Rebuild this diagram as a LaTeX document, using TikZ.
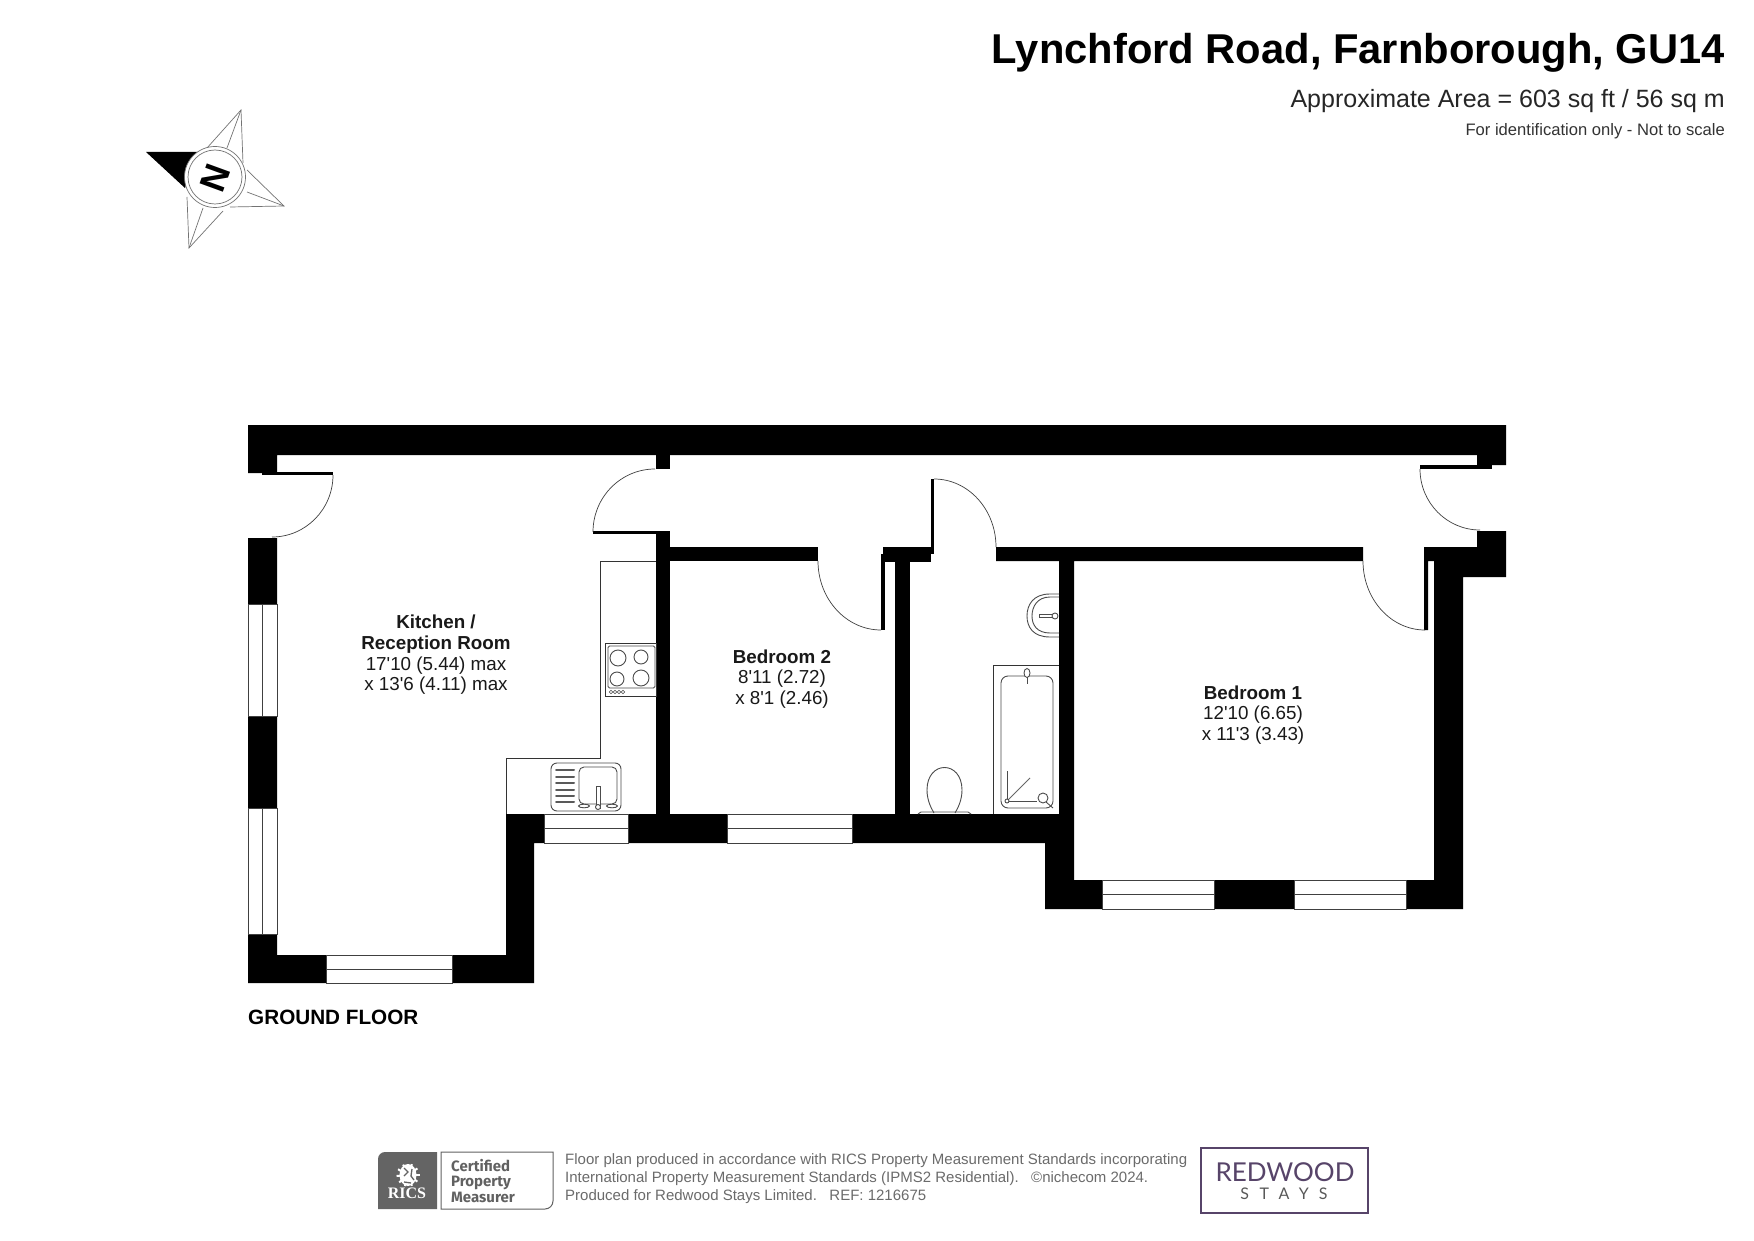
\documentclass[tikz,border=0pt]{standalone}
\usepackage{fontspec}
\newfontfamily\plansans{Liberation Sans}
\newfontfamily\planserif{Liberation Serif}
\newfontfamily\badgesans{Fira Sans}
\newfontfamily\logosans{Lato}
\newfontfamily\logostays[LetterSpace=66]{Lato}
\definecolor{ricsgrey}{HTML}{646464}
\definecolor{logopurple}{HTML}{574469}
\tikzset{
  wall/.style={fill=black},
  pane/.style={draw=black!75,fill=white,line width=0.8pt},
  thinline/.style={draw=black!80,line width=0.8pt},
  fixture/.style={draw=black!70,line width=0.9pt},
  swing/.style={draw=black!75,line width=0.7pt},
  starline/.style={draw=black!55,line width=0.7pt},
  titletext/.style={anchor=base east,inner sep=0pt,font=\plansans},
  roomlabel/.style={align=center,inner sep=0pt,text=black!90,
    font=\plansans\fontsize{18.8}{20.7}\selectfont},
  smallprint/.style={anchor=base west,inner sep=0pt,text=black!58,
    font=\plansans\fontsize{15}{15}\selectfont},
  badgetext/.style={anchor=base west,inner sep=0pt,text=black!62,
    font=\badgesans\bfseries\fontsize{15}{15}\selectfont},
}
\begin{document}
\begin{tikzpicture}[x=1pt,y=-1pt]
  \useasboundingbox[fill=white] (0,0) rectangle (1754,1241);
  % outer walls
  \fill[wall] (248,425)--(1506,425)--(1506,465)--(1477,465)--(1477,455)--(277,455)--(277,473)--(248,473)--cycle;
  \fill[wall] (248,538)--(277,538)--(277,955)--(506,955)--(506,814)--(1059,814)--(1059,561)--(996,561)--(996,547)
    --(1363,547)--(1363,561)--(1074,561)--(1074,880)--(1434,880)--(1434,561)--(1428,561)--(1428,630)--(1424,630)
    --(1424,547)--(1477,547)--(1477,531)--(1506,531)--(1506,577)--(1463,577)--(1463,909)--(1045,909)--(1045,843)
    --(534,843)--(534,983)--(248,983)--cycle;
  % partitions and door leaves
  \fill[wall] (656,455) rectangle (670,469);
  \fill[wall] (656,531) rectangle (670,814);
  \fill[wall] (593,531) rectangle (670,534);
  \fill[wall] (670,547) rectangle (818,561);
  \fill[wall] (881,554) rectangle (885,630);
  \fill[wall] (883,547) rectangle (931,562);
  \fill[wall] (895,561) rectangle (910,814);
  \fill[wall] (931,479) rectangle (934,554);
  \fill[wall] (262,472) rectangle (333,475);
  \fill[wall] (1420,465) rectangle (1492,469);
  % windows
  \foreach \xa/\ya/\xb/\yb in {248/604/277/716,248/808/277/934} {
    \draw[pane] (\xa,\ya) rectangle (\xb,\yb);
    \draw[pane] (262.5,\ya)--(262.5,\yb);
  }
  \foreach \xa/\ya/\xb/\yb in {326/955/452/983,544/814/628/843,727/814/852/843,1102/880/1214/909,1294/880/1406/909} {
    \draw[pane] (\xa,\ya) rectangle (\xb,\yb);
    \draw[pane] (\xa,{(\ya+\yb)/2})--(\xb,{(\ya+\yb)/2});
  }
  % door swings
  \draw[swing] (333,475) arc[start angle=0,end angle=90,x radius=61,y radius=62];
  \draw[swing] (655,469) arc[start angle=-90,end angle=-180,x radius=62,y radius=63];
  \draw[swing] (818,561) arc[start angle=180,end angle=90,x radius=63,y radius=69];
  \draw[swing] (934,479) arc[start angle=-90,end angle=0,x radius=62,y radius=68];
  \draw[swing] (1363,561) arc[start angle=180,end angle=90,x radius=62,y radius=69];
  \draw[swing] (1420,469) arc[start angle=180,end angle=90,x radius=60,y radius=61];
  % kitchen units
  \draw[thinline] (656,561)--(600,561)--(600,758)--(506,758)--(506,814);
  \draw[thinline,fill=white] (605,643) rectangle (656,696);
  \draw[fixture,rounded corners=1.5pt] (608,646) rectangle (655,688);
  \draw[fixture] (618,658) circle (8);
  \draw[fixture] (641,657) circle (7);
  \draw[fixture] (617,679) circle (7);
  \draw[fixture] (641,678) circle (8);
  \foreach \x in {611,615,619,623} \draw[fixture,line width=0.6pt] (\x,692) circle (1.7);
  % sink
  \draw[fixture,rounded corners=6pt] (551,763) rectangle (621,811);
  \foreach \y in {770,777,783,790,796,802} \draw[black!65,line width=2pt,line cap=round] (556,\y)--(574,\y);
  \draw[fixture,rounded corners=5pt] (579,767) rectangle (617,804);
  \draw[fixture,fill=white] (596,786) rectangle (600,808);
  \draw[fixture,fill=white] (584,806) ellipse (5.5 and 1.8);
  \draw[fixture,fill=white] (612,806) ellipse (5.5 and 1.8);
  \draw[fixture,fill=white] (598,807) circle (2.5);
  % bathroom
  \draw[thinline] (1059,665)--(993,665)--(993,814);
  \draw[fixture,rounded corners=7pt] (1001,676) rectangle (1053,808);
  \draw[fixture,fill=white] (1027,673) ellipse (3 and 4.5);
  \draw[fixture] (1027,677)--(1027,684);
  \draw[fixture] (1007,771)--(1007,801)--(1037,801);
  \draw[black!60,line width=0.8pt] (1007,801)--(1030,778);
  \draw[fixture,fill=white] (1007,801) circle (2);
  \draw[fixture] (1043,798) circle (5);
  \draw[fixture] (1046,802)--(1053,808);
  \draw[fixture] (927,790) .. controls (927,760) and (962,760) .. (962,790) .. controls (962,800) and (958,808) .. (955,813);
  \draw[fixture] (927,790) .. controls (927,800) and (931,808) .. (934,813);
  \draw[fixture] (918,814)--(921,812)--(968,812)--(971,814);
  \draw[fixture] (1059,594)--(1050,594) .. controls (1033,594) and (1027,605) .. (1027,616) .. controls (1027,627) and (1033,637) .. (1050,637)--(1059,637);
  \draw[fixture] (1059,597)--(1050,597) .. controls (1037,597) and (1032,607) .. (1032,616) .. controls (1032,625) and (1037,633) .. (1050,633)--(1059,633);
  \draw[fixture,fill=white] (1039,614.5) rectangle (1054,617.5);
  \draw[fixture,fill=white] (1055,616) circle (3);
  % room labels
  \node[roomlabel] (kitchen) at (436,655) {\bfseries Kitchen /\\\bfseries Reception Room\\17'10 (5.44) max\\x 13'6 (4.11) max};
  \node[roomlabel] (bedtwo) at (782,679) {\bfseries Bedroom 2\\8'11 (2.72)\\x 8'1 (2.46)};
  \node[roomlabel] (bedone) at (1253,715) {\bfseries Bedroom 1\\12'10 (6.65)\\x 11'3 (3.43)};
  \node[anchor=base west,inner sep=0pt,font=\plansans\bfseries\fontsize{20.7}{20.7}\selectfont] (floorname) at (248,1024) {GROUND FLOOR};
  % heading
  \node[titletext,font=\plansans\bfseries\fontsize{41.7}{41.7}\selectfont] (title) at (1725,64) {Lynchford Road, Farnborough, GU14};
  \node[titletext,text=black!85,font=\plansans\fontsize{25}{25}\selectfont] (area) at (1725,108) {Approximate Area = 603 sq ft / 56 sq m};
  \node[titletext,text=black!80,font=\plansans\fontsize{16.6}{16.6}\selectfont] (note) at (1725,136) {For identification only - Not to scale};
  % north point
  \draw[starline] (207,148)--(241,110)--(243,163);
  \draw[starline] (241,110)--(227,148);
  \draw[starline] (247,170)--(284,206)--(230,207);
  \draw[starline] (284,206)--(247,192);
  \draw[starline] (187,197)--(189,248)--(223,211);
  \draw[starline] (189,248)--(203,208);
  \fill[black] (146,152)--(198,152)--(185,188)--cycle;
  \draw[starline,fill=white] (215,177) circle (30.5);
  \draw[starline] (215,177) circle (27);
  \node[rotate=70,inner sep=0pt,font=\plansans\bfseries\fontsize{36}{36}\selectfont] (north) at (215,178) {N};
  % badge
  \fill[ricsgrey] (437,1209)--(378,1209)[rounded corners=7pt]--(378,1152)[sharp corners]--(437,1152)--cycle;
  \fill[white] (408,1175) ellipse (8.5 and 11);
  \foreach \a in {-70,-35,...,250} \draw[white,line width=2pt] (408,1175)--++({\a}:11.5);
  \draw[ricsgrey,line width=1.3pt] (404,1168)--(408,1172)--(404,1176) (412,1169)--(411,1176)--(414,1180) (404,1182)--(411,1183);
  \node[anchor=base,inner sep=0pt,text=white,font=\planserif\bfseries\fontsize{16}{16}\selectfont] (ricsname) at (407,1198) {RICS};
  \draw[black!62,line width=1pt] (441,1152)--(553,1152)--(553,1200)[rounded corners=8pt]--(553,1209)[sharp corners]--(441,1209)--cycle;
  \node[badgetext] (badgea) at (451,1171) {Certified};
  \node[badgetext] (badgeb) at (451,1186.5) {Property};
  \node[badgetext] (badgec) at (451,1202) {Measurer};
  % small print
  \node[smallprint] (printa) at (565,1164) {Floor plan produced in accordance with RICS Property Measurement Standards incorporating};
  \node[smallprint] (printb) at (565,1182) {International Property Measurement Standards (IPMS2 Residential).\ \ \ \copyright nichecom 2024.};
  \node[smallprint] (printc) at (565,1200) {Produced for Redwood Stays Limited.\ \ \ REF:\ 1216675};
  % logo
  \draw[logopurple,line width=1.6pt] (1201,1148) rectangle (1368,1213);
  \node[anchor=base,inner sep=0pt,text=logopurple,font=\logosans\fontsize{26}{26}\selectfont] (logoname) at (1285,1181) {REDWOOD};
  \node[anchor=base,inner sep=0pt,text=black!65,font=\logostays\fontsize{16}{16}\selectfont] (logostay) at (1284,1199) {STAYS};
\end{tikzpicture}
\end{document}
